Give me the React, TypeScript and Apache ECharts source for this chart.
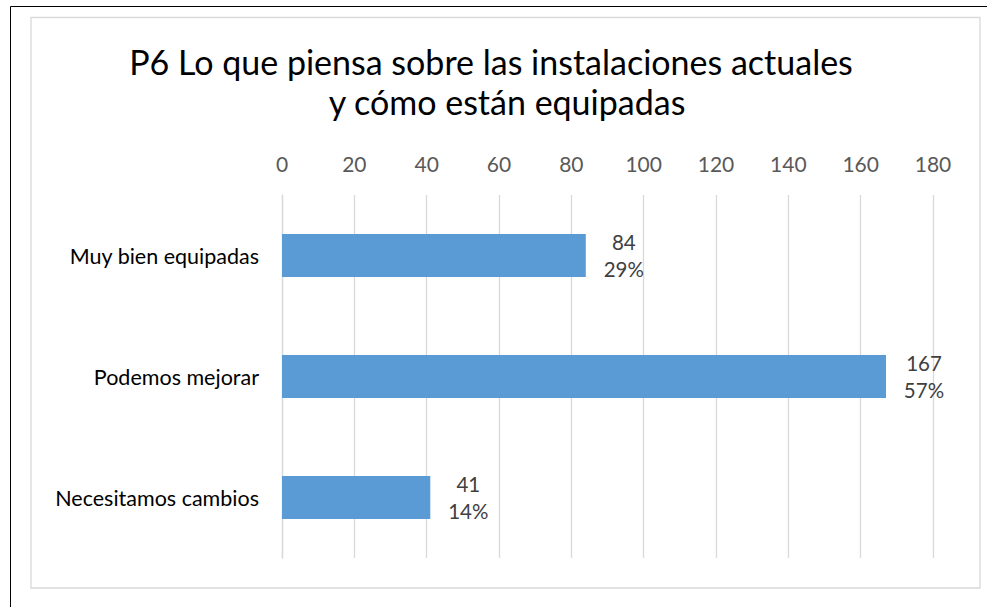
import React, { useEffect, useRef } from "react";
import * as echarts from "echarts";

const categories = ["Muy bien equipadas", "Podemos mejorar", "Necesitamos cambios"];
const counts = [84, 167, 41];
const percents = ["29%", "57%", "14%"];
const titleLines = ["P6 Lo que piensa sobre las instalaciones actuales", "y cómo están equipadas"];

const FONT = "Lato, 'Open Sans', sans-serif";

export default function App() {
  const ref = useRef<HTMLDivElement>(null);
  useEffect(() => {
    if (!ref.current) return;
    const chart = echarts.init(ref.current, undefined, { renderer: "svg" });
    chart.setOption({
      animation: false,
      backgroundColor: "#ffffff",
      textStyle: { fontFamily: FONT },
      graphic: [
        {
          type: "rect",
          shape: { x: 10.5, y: 6.5, width: 990, height: 620 },
          style: { fill: "none", stroke: "#000000", lineWidth: 1 },
          silent: true,
        },
        {
          type: "rect",
          shape: { x: 31, y: 17.5, width: 949, height: 570.5 },
          style: { fill: "none", stroke: "#d9d9d9", lineWidth: 1.3 },
          silent: true,
        },
        {
          type: "text",
          x: 491,
          y: 61,
          style: {
            text: titleLines[0],
            fontFamily: FONT,
            fontSize: 34,
            fill: "#000000",
            align: "center",
            verticalAlign: "middle",
          },
        },
        {
          type: "text",
          x: 507,
          y: 101,
          style: {
            text: titleLines[1],
            fontFamily: FONT,
            fontSize: 34,
            fill: "#000000",
            align: "center",
            verticalAlign: "middle",
          },
        },
      ],
      grid: { left: 282, right: 54, top: 195, bottom: 49, containLabel: false },
      xAxis: {
        type: "value",
        position: "top",
        min: 0,
        max: 180,
        interval: 20,
        axisLine: { show: false },
        axisTick: { show: false },
        splitLine: { show: true, lineStyle: { color: "#d9d9d9", width: 1.3 } },
        axisLabel: { color: "#595959", fontSize: 21, margin: 21, fontFamily: FONT },
      },
      yAxis: {
        type: "category",
        inverse: true,
        data: categories,
        axisLine: { show: true, lineStyle: { color: "#d9d9d9", width: 1.3 } },
        axisTick: { show: false },
        axisLabel: { color: "#000000", fontSize: 21.5, margin: 23, fontFamily: FONT },
      },
      series: [
        {
          type: "bar",
          data: counts,
          barWidth: 43,
          itemStyle: { color: "#5b9bd5" },
          label: {
            show: true,
            position: "right",
            distance: 12,
            formatter: (p: any) => `{v|${counts[p.dataIndex]}}\n{v|${percents[p.dataIndex]}}`,
            rich: {
              v: {
                width: 52,
                align: "center",
                fontSize: 20.5,
                lineHeight: 27,
                color: "#404040",
                fontFamily: FONT,
              },
            },
          },
        },
      ],
    });
    return () => chart.dispose();
  }, []);
  return (
    <div
      ref={ref}
      style={{ position: "fixed", left: 0, top: 0, width: 987, height: 607 }}
    />
  );
}
